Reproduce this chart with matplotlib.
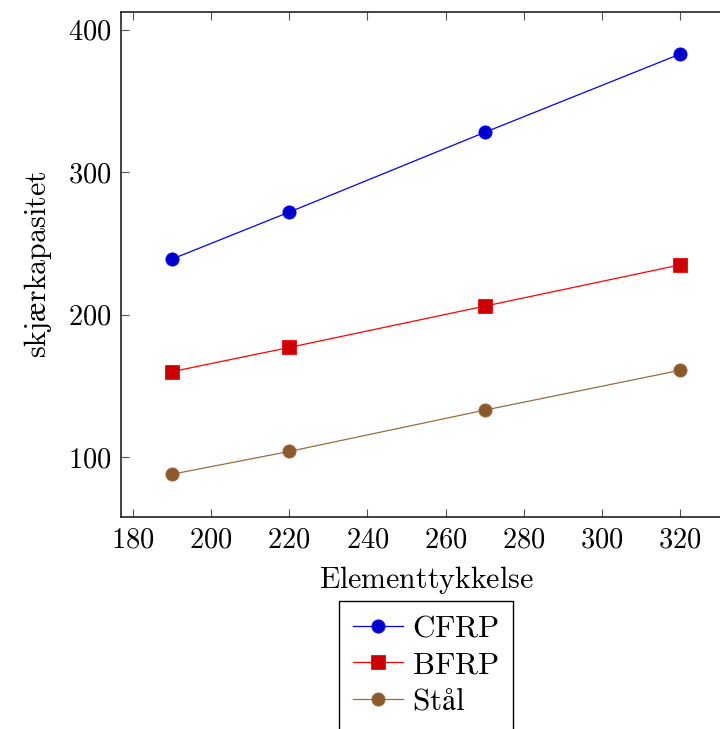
import matplotlib
matplotlib.use("Agg")
import matplotlib.pyplot as plt

plt.rcParams['font.family'] = ['cmr10', 'DejaVu Serif']
plt.rcParams['mathtext.fontset'] = 'cm'
plt.rcParams['axes.formatter.use_mathtext'] = True

thickness = [190, 220, 270, 320]
cfrp = [239, 272, 328, 383]
bfrp = [160, 177, 206, 235]
staal = [88, 104, 133, 161]

x_ticks = [180, 200, 220, 240, 260, 280, 300, 320]
y_ticks = [100, 200, 300, 400]

fig = plt.figure(figsize=(7.2, 7.29), dpi=100)
ax = fig.add_axes([121 / 720, 1 - 517 / 729, 610 / 720, 505 / 729])

series = [
    (r"$\mathrm{CFRP}$", cfrp, "o", (0, 0, 1), (0, 0, 0.8), 9.5),
    (r"$\mathrm{BFRP}$", bfrp, "s", (1, 0, 0), (0.8, 0, 0), 10),
    (r"$\mathrm{Stål}$", staal, "o", (0.6, 0.42, 0.25), (0.55, 0.35, 0.17), 9.5),
]
for name, vals, mk, lc, fc, ms in series:
    ax.plot(thickness, vals, color=lc, lw=0.9, marker=mk, ms=ms,
            markerfacecolor=fc, markeredgecolor=lc, markeredgewidth=0.6,
            label=name)

ax.set_xlim(177, 333)
ax.set_ylim(58, 412.5)
ax.set_xticks(x_ticks)
ax.set_yticks(y_ticks)
ax.tick_params(direction='in', length=6, width=0.8, color='#555555',
               top=True, right=True, labelsize=20.5, pad=7)
for s in ax.spines.values():
    s.set_linewidth(1.2)
    s.set_color('#222222')

ax.set_xlabel(r"$\mathrm{Elementtykkelse}$", fontsize=21.5, labelpad=8)
ax.set_ylabel(r"$\mathrm{skjærkapasitet}$", fontsize=21.5, labelpad=10)

leg = ax.legend(loc='upper center', bbox_to_anchor=(0.5, -0.166),
                borderaxespad=0, fancybox=False, edgecolor='black',
                fontsize=22.5, handlelength=1.6, handletextpad=0.3,
                labelspacing=0.27, borderpad=0.45, framealpha=1)
leg.get_frame().set_linewidth(1.0)

fig.savefig("out.png", dpi=100)
